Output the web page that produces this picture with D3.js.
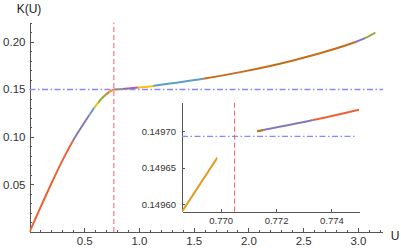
<!DOCTYPE html>
<html>
	<head>
		<meta charset="utf-8">
		<title>K(U)</title>
		<script src="https://d3js.org/d3.v7.min.js"></script>
		<style type="text/css">
			body { margin: 0; background: #fff; }
			svg { display: block; }
			.axis path, .axis line {
				fill: none;
				stroke: #555;
				shape-rendering: crispEdges;
			}
			.axis text {
				font-family: "Liberation Sans", Arial, sans-serif;
				fill: #333;
			}
			.main text { font-size: 11.5px; }
			.inset text { font-size: 9.5px; }
			.minor path { display: none; }
		</style>
	</head>
	<body>
		<script type="text/javascript">

			//Tamaño del lienzo
			var svgWidth = 401;
			var svgHeight = 252;

			//Rama inferior de K(U)
			var lowerU = [0, 0.1, 0.2, 0.3, 0.4, 0.5, 0.55, 0.6, 0.65, 0.7, 0.73, 0.75, 0.7686, 0.76988];
			var lowerK = [0, 0.0258, 0.0510, 0.0750, 0.0965, 0.1148, 0.1235, 0.1318, 0.1391, 0.1446, 0.1472, 0.14855, 0.14959, 0.149664];

			//Rama superior de K(U)
			var upperU = [0.77131, 0.7733, 0.77497, 0.8, 0.9, 1.0, 1.131, 1.3, 1.587, 1.95, 2.4, 2.7, 2.97, 3.06, 3.162];
			var upperK = [0.14970, 0.149715, 0.149729, 0.14995, 0.1508, 0.1518, 0.1535, 0.1562, 0.1610, 0.1685, 0.1800, 0.1893, 0.1993, 0.2035, 0.2095];

			//Tramos de color (límites en U y color de cada tramo)
			var lowerBreaks = [0, 0.397, 0.55, 0.595, 0.626, 0.70, 0.732, 0.76988];
			var lowerColors = [3, 4, 6, 7, 2, 3, 1];
			var upperBreaks = [0.77131, 0.77153, 0.77333, 0.80, 0.85, 0.99, 1.131, 1.587, 2.973, 3.064, 3.162];
			var upperColors = [5, 4, 3, 2, 8, 7, 6, 5, 4, 2];

			//Líneas de referencia
			var uStar = 0.7705;
			var kStar = 0.149693;

			//Marcadores
			var xMajor = [0.5, 1.0, 1.5, 2.0, 2.5, 3.0];
			var yMajor = [0.05, 0.10, 0.15, 0.20];
			var insetXMajor = [0.770, 0.772, 0.774];
			var insetYMajor = [0.14960, 0.14965, 0.14970];

			var palette = ['#5E81B5', '#E19C24', '#8FB032', '#EB6235', '#8778B3',
				'#C56E1A', '#5D9EC7', '#FFBF00', '#A5609D'];

			var lower = lowerU.map(function(u, i) { return [u, lowerK[i]]; });
			var upper = upperU.map(function(u, i) { return [u, upperK[i]]; });

			var svg = d3.select('body')
				.append('svg')
				.attr('width', svgWidth)
				.attr('height', svgHeight);

			var defs = svg.append('defs');

			//Escalas principales
			var xScale = d3.scaleLinear().domain([0, 3.22]).range([29.5, 382]);
			var yScale = d3.scaleLinear().domain([0, 0.22]).range([232, 22.6]);

			//Escalas del recuadro
			var xIn = d3.scaleLinear().domain([0.7686, 0.775]).range([182, 359]);
			var yIn = d3.scaleLinear().domain([0.14959, 0.14974]).range([211.7, 102]);

			var clipId = 0;

			//Dibuja una rama tramo a tramo, cada tramo con su color
			function drawBranch(g, data, breaks, colors, xs, ys) {
				var line = d3.line()
					.x(function(d) { return xs(d[0]); })
					.y(function(d) { return ys(d[1]); })
					.curve(d3.curveMonotoneX);
				for (var i = 0; i < colors.length; i++) {
					var id = 'seg' + (clipId++);
					defs.append('clipPath').attr('id', id)
						.append('rect')
						.attr('x', xs(breaks[i]))
						.attr('y', 0)
						.attr('width', Math.max(0, xs(breaks[i + 1]) - xs(breaks[i])))
						.attr('height', svgHeight);
					g.append('path')
						.datum(data)
						.attr('d', line)
						.attr('clip-path', 'url(#' + id + ')')
						.attr('fill', 'none')
						.attr('stroke', palette[colors[i]])
						.attr('stroke-width', 2)
						.attr('stroke-linecap', 'butt');
				}
			}

			//Ejes principales
			svg.append('g').attr('class', 'axis main minor')
				.attr('transform', 'translate(0,' + yScale(0) + ')')
				.call(d3.axisBottom(xScale).tickValues(d3.range(1, 33).map(function(i) { return i / 10; }))
					.tickSize(-2.5).tickFormat(''));
			svg.append('g').attr('class', 'axis main')
				.attr('transform', 'translate(0,' + yScale(0) + ')')
				.call(d3.axisBottom(xScale).tickValues(xMajor).tickSize(-4).tickSizeOuter(0)
					.tickPadding(5).tickFormat(d3.format('.1f')));

			svg.append('g').attr('class', 'axis main minor')
				.attr('transform', 'translate(' + xScale(0) + ',0)')
				.call(d3.axisLeft(yScale).tickValues(d3.range(1, 23).map(function(i) { return i / 100; }))
					.tickSize(-2.5).tickFormat(''));
			svg.append('g').attr('class', 'axis main')
				.attr('transform', 'translate(' + xScale(0) + ',0)')
				.call(d3.axisLeft(yScale).tickValues(yMajor).tickSize(-4).tickSizeOuter(0)
					.tickPadding(4).tickFormat(d3.format('.2f')));

			//Curva principal
			var mainG = svg.append('g');
			drawBranch(mainG, lower, lowerBreaks, lowerColors, xScale, yScale);
			drawBranch(mainG, upper, upperBreaks, upperColors, xScale, yScale);

			//Líneas de referencia principales
			svg.append('line')
				.attr('x1', xScale(0)).attr('x2', 383)
				.attr('y1', yScale(kStar)).attr('y2', yScale(kStar))
				.attr('stroke', '#8888ff').attr('stroke-width', 1.3)
				.attr('stroke-dasharray', '6,2.5,1.5,2.5');
			svg.append('line')
				.attr('x1', xScale(uStar)).attr('x2', xScale(uStar))
				.attr('y1', yScale(0)).attr('y2', yScale(0.22))
				.attr('stroke', '#ff5a5a').attr('stroke-width', 1)
				.attr('stroke-dasharray', '5,3');

			//Títulos de ejes
			svg.append('text').text('K(U)')
				.attr('x', 29).attr('y', 13)
				.attr('text-anchor', 'middle')
				.attr('font-family', '"Liberation Sans", Arial, sans-serif')
				.attr('font-size', '12px').attr('fill', '#222');
			svg.append('text').text('U')
				.attr('x', 395).attr('y', 240)
				.attr('text-anchor', 'middle')
				.attr('font-family', '"Liberation Sans", Arial, sans-serif')
				.attr('font-size', '12px').attr('fill', '#222');

			//Recuadro (ampliación)
			defs.append('clipPath').attr('id', 'insetClip')
				.append('rect')
				.attr('x', xIn.range()[0]).attr('y', yIn.range()[1])
				.attr('width', xIn.range()[1] - xIn.range()[0])
				.attr('height', yIn.range()[0] - yIn.range()[1]);

			svg.append('g').attr('class', 'axis inset')
				.attr('transform', 'translate(0,' + yIn.range()[0] + ')')
				.call(d3.axisBottom(xIn).tickValues(insetXMajor).tickSize(-3).tickSizeOuter(0)
					.tickPadding(6).tickFormat(d3.format('.3f')));
			svg.append('g').attr('class', 'axis inset')
				.attr('transform', 'translate(' + xIn.range()[0] + ',0)')
				.call(d3.axisLeft(yIn).tickValues(insetYMajor).tickSize(-3).tickSizeOuter(0)
					.tickPadding(6).tickFormat(d3.format('.5f')));

			var insetG = svg.append('g').attr('clip-path', 'url(#insetClip)');
			drawBranch(insetG, lower, lowerBreaks, lowerColors, xIn, yIn);
			drawBranch(insetG, upper, upperBreaks, upperColors, xIn, yIn);

			svg.append('line')
				.attr('x1', xIn.range()[0]).attr('x2', 357)
				.attr('y1', yIn(kStar)).attr('y2', yIn(kStar))
				.attr('stroke', '#8888ff').attr('stroke-width', 1.3)
				.attr('stroke-dasharray', '6,2.5,1.5,2.5');
			svg.append('line')
				.attr('x1', xIn(uStar)).attr('x2', xIn(uStar))
				.attr('y1', yIn.range()[0]).attr('y2', yIn.range()[1])
				.attr('stroke', '#ff5a5a').attr('stroke-width', 1)
				.attr('stroke-dasharray', '5,3');

		</script>
	</body>
</html>
